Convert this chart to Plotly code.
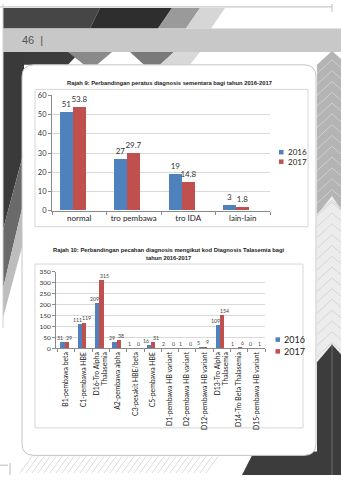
import plotly.graph_objects as go

W, H = 341, 480


def X(px):
    return px / W


def Y(py):
    return 1 - py / H


# ---------------- data ----------------
years = ["2016", "2017"]
colors = ["#4F81BD", "#C0504D"]

cat1 = ["normal", "tro pembawa", "tro IDA", "lain-lain"]
v1_2016 = [51, 27, 19, 3]
v1_2017 = [53.8, 29.7, 14.8, 1.8]
ticks1 = [0, 10, 20, 30, 40, 50, 60]

cat2 = [
    "B1-pembawa beta",
    "C1-pembawa HBE",
    "D16-Tro Alpha<br>Thalasemia",
    "A2-pembawa alpha",
    "C3-pesakit HBE/beta",
    "C5-pembawa HBE",
    "D1-pembawa HB variant",
    "D2-pembawa HB variant",
    "D12-pembawa HB variant",
    "D13-Tro Alpha<br>Thalasemia",
    "D14-Tro Beta Thalasemia",
    "D15-pembawa HB variant",
]
v2_2016 = [31, 111, 209, 29, 1, 16, 2, 1, 5, 109, 1, 0]
v2_2017 = [29, 119, 315, 38, 0, 31, 0, 0, 9, 154, 6, 1]
ticks2 = [0, 50, 100, 150, 200, 250, 300, 350]

title1 = "Rajah 9: Perbandingan peratus diagnosis sementara bagi tahun 2016-2017"
title2 = ("Rajah 10: Perbandingan pecahan diagnosis mengikut kod Diagnosis Talasemia bagi"
          "<br>tahun 2016-2017")
page_no = "46  |"

FONT = "Lato"
TFONT = "Liberation Sans"

fig = go.Figure()

# chart 1 bars
for vals, off, col in [(v1_2016, -0.36, colors[0]), (v1_2017, -0.12, colors[1])]:
    fig.add_trace(go.Bar(
        x=cat1, y=vals, xaxis="x", yaxis="y",
        width=0.24, offset=off, marker=dict(color=col, line=dict(width=0)),
        text=[f"{v:g}" for v in vals], textposition="outside",
        textfont=dict(family=FONT, size=8, color="#333333"),
        constraintext="none", cliponaxis=False, showlegend=False,
        hoverinfo="skip",
    ))

# chart 2 bars
W2 = 0.245
OFFS2 = [-0.335, -0.09]
for vals, off, col in [(v2_2016, OFFS2[0], colors[0]), (v2_2017, OFFS2[1], colors[1])]:
    fig.add_trace(go.Bar(
        x=cat2, y=vals, xaxis="x2", yaxis="y2",
        width=W2, offset=off, marker=dict(color=col, line=dict(width=0)),
        cliponaxis=False, showlegend=False, hoverinfo="skip",
    ))

AXC = "#8a8a8a"
GRID = "#d9d9d9"

fig.update_layout(
    width=W, height=H, autosize=False,
    margin=dict(l=0, r=0, t=0, b=0),
    paper_bgcolor="white", plot_bgcolor="rgba(0,0,0,0)",
    bargap=0, showlegend=False,
    xaxis=dict(domain=[X(52), X(270)], anchor="y", type="category",
               showline=True, linecolor=AXC, linewidth=1,
               ticks="outside", tickson="boundaries", ticklen=3, tickcolor=AXC,
               tickangle=0,
               tickfont=dict(family=FONT, size=8, color="#222222"),
               showgrid=False, fixedrange=True),
    yaxis=dict(domain=[Y(210.7), Y(93)], anchor="x", range=[0, 60],
               tickvals=ticks1, showline=True, linecolor=AXC, linewidth=1,
               ticks="outside", ticklen=3, tickcolor=AXC,
               tickfont=dict(family=FONT, size=7.5, color="#333333"),
               gridcolor=GRID, gridwidth=1, zeroline=False, fixedrange=True),
    xaxis2=dict(domain=[X(56), X(265)], anchor="y2", type="category",
                showline=True, linecolor=AXC, linewidth=1,
                ticks="outside", tickson="boundaries", ticklen=3, tickcolor=AXC,
                tickangle=-90,
                tickfont=dict(family=FONT, size=6.8, color="#222222"),
                showgrid=False, fixedrange=True),
    yaxis2=dict(domain=[Y(351), Y(273)], anchor="x2", range=[0, 350],
                tickvals=ticks2, showline=True, linecolor=AXC, linewidth=1,
                ticks="outside", ticklen=3, tickcolor=AXC,
                tickfont=dict(family=FONT, size=6.5, color="#333333"),
                gridcolor=GRID, gridwidth=1, zeroline=False, fixedrange=True),
)

shapes = []


def poly(pts, fill, line_color=None, lw=0, layer="below"):
    d = "M " + " L ".join(f"{X(px):.5f},{Y(py):.5f}" for px, py in pts) + " Z"
    shapes.append(dict(type="path", path=d, xref="paper", yref="paper",
                       fillcolor=fill, line=dict(color=line_color or fill, width=lw),
                       layer=layer))


def seg(x0, y0, x1, y1, color, lw=1, layer="below"):
    shapes.append(dict(type="line", xref="paper", yref="paper",
                       x0=X(x0), y0=Y(y0), x1=X(x1), y1=Y(y1),
                       line=dict(color=color, width=lw), layer=layer))


def rrect(x0, y0, x1, y1, r, fill, line_color, lw=1):
    rx, ry = r, r
    p = (f"M {X(x0+rx)},{Y(y0)} L {X(x1-rx)},{Y(y0)} Q {X(x1)},{Y(y0)} {X(x1)},{Y(y0+ry)} "
         f"L {X(x1)},{Y(y1-ry)} Q {X(x1)},{Y(y1)} {X(x1-rx)},{Y(y1)} "
         f"L {X(x0+rx)},{Y(y1)} Q {X(x0)},{Y(y1)} {X(x0)},{Y(y1-ry)} "
         f"L {X(x0)},{Y(y0+ry)} Q {X(x0)},{Y(y0)} {X(x0+rx)},{Y(y0)} Z")
    shapes.append(dict(type="path", path=p, xref="paper", yref="paper",
                       fillcolor=fill, line=dict(color=line_color, width=lw), layer="below"))


# ---- page decorations ----
seg(0, 3, 332, 3, "#bdbdbd", 1)
seg(332, 0, 332, 8, "#bdbdbd", 1)
poly([(3, 4), (100, 4), (90, 25), (3, 25)], "#464646")
poly([(100, 4), (172, 4), (158, 25), (90, 25)], "#2e2e2e")
poly([(172, 4), (200, 4), (186, 25), (158, 25)], "#9a9a9a")
poly([(200, 4), (225, 4), (211, 25), (186, 25)], "#d6d6d6")
poly([(3, 25), (341, 25), (341, 49), (3, 49)], "#c8c8c8")
poly([(3, 49), (80, 49), (68, 62), (3, 62)], "#3c3c3c")
poly([(68, 49), (112, 49), (97, 62), (84, 62)], "#8a8a8a")
poly([(130, 49), (174, 49), (160, 62), (144, 62)], "#7a7a7a")
poly([(174, 49), (200, 49), (190, 62), (160, 62)], "#d8d8d8")
poly([(3, 49), (24, 49), (24, 150), (3, 230)], "#3a3a3a")
poly([(24, 150), (24, 200), (3, 290), (3, 230)], "#6a6a6a")
poly([(24, 200), (24, 240), (3, 320), (3, 290)], "#bdbdbd")
seg(3, 0, 3, 330, "#d0d0d0", 1)
poly([(317, 62), (332, 48), (341, 56), (341, 210), (332, 196), (317, 215)], "#b4b4b4")
poly([(317, 215), (332, 196), (341, 210), (341, 357), (332, 347), (317, 365)], "#ececec")
for k in range(0, 14):
    yy = 200 + k * 11
    seg(317, yy + 16, 332, yy + 2, "#cfcfcf", 0.8)
    seg(332, yy + 2, 341, yy + 10, "#cfcfcf", 0.8)
for k in range(0, 14):
    yy = 55 + k * 11
    seg(317, yy + 16, 332, yy + 2, "#d6d6d6", 0.8)
    seg(332, yy + 2, 341, yy + 10, "#d6d6d6", 0.8)
poly([(317, 365), (332, 347), (341, 357), (341, 480), (317, 480)], "#3c3c3c")
seg(332, 347, 332, 480, "#6e6e6e", 1)
poly([(242, 480), (254, 456), (341, 456), (341, 480)], "#3c3c3c")
seg(332, 456, 332, 480, "#6e6e6e", 1)
for k in range(0, 32):
    x0 = 20 + k * 6
    seg(x0, 478, x0 + 12, 461, "#d2d2d2", 0.8)
seg(10, 468, 10, 480, "#bbbbbb", 1)
seg(0, 470, 8, 470, "#bbbbbb", 1)
rrect(22, 62, 316, 460, 12, "white", "#c4c4c4", 1)
shapes.append(dict(type="rect", xref="paper", yref="paper", x0=X(35), y0=Y(227), x1=X(308), y1=Y(87),
                   line=dict(color="#d6d6d6", width=1), fillcolor="rgba(0,0,0,0)", layer="below"))
shapes.append(dict(type="rect", xref="paper", yref="paper", x0=X(35), y0=Y(432), x1=X(303), y1=Y(265),
                   line=dict(color="#d6d6d6", width=1), fillcolor="rgba(0,0,0,0)", layer="below"))

annotations = []
annotations.append(dict(text=page_no, x=X(20), y=Y(37), xref="paper", yref="paper",
                        xanchor="left", yanchor="middle", showarrow=False,
                        font=dict(family="Liberation Sans Narrow, Liberation Sans", size=11, color="#555555")))
annotations.append(dict(text=f"<b>{title1}</b>", x=X(169), y=Y(80.5), xref="paper", yref="paper",
                        xanchor="center", yanchor="middle", showarrow=False,
                        font=dict(family=TFONT, size=5.8, color="#222222")))
annotations.append(dict(text=f"<b>{title2}</b>", x=X(169), y=Y(254.5), xref="paper", yref="paper",
                        xanchor="center", yanchor="middle", showarrow=False,
                        font=dict(family=TFONT, size=5.8, color="#222222")))

# chart 2 data labels (anchored to bar tops through the axes)
for s, (vals, off) in enumerate([(v2_2016, OFFS2[0]), (v2_2017, OFFS2[1])]):
    shift = -2.6 if s == 0 else 2.6
    for i, v in enumerate(vals):
        annotations.append(dict(text=f"{v:g}", x=i + off + W2 / 2, y=v, xref="x2", yref="y2",
                                xanchor="center", yanchor="bottom", showarrow=False,
                                xshift=shift, yshift=0, borderpad=0,
                                font=dict(family=FONT, size=5.2, color="#444444")))

# legends (manual)
for i, (yr, col) in enumerate(zip(years, colors)):
    cy = 151 + i * 9.7
    shapes.append(dict(type="rect", xref="paper", yref="paper", x0=X(279), x1=X(283.5),
                       y0=Y(cy + 2.3), y1=Y(cy - 2.3), fillcolor=col, line=dict(width=0), layer="above"))
    annotations.append(dict(text=yr, x=X(285.5), y=Y(cy), xref="paper", yref="paper",
                            xanchor="left", yanchor="middle", showarrow=False,
                            font=dict(family=FONT, size=8, color="#222222")))
    cy2 = 342 + i * 12
    shapes.append(dict(type="rect", xref="paper", yref="paper", x0=X(275.5), x1=X(280),
                       y0=Y(cy2 + 2.3), y1=Y(cy2 - 2.3), fillcolor=col, line=dict(width=0), layer="above"))
    annotations.append(dict(text=yr, x=X(282), y=Y(cy2), xref="paper", yref="paper",
                            xanchor="left", yanchor="middle", showarrow=False,
                            font=dict(family=FONT, size=9, color="#222222")))

fig.update_layout(shapes=shapes, annotations=annotations)

fig.write_html("out.html")
